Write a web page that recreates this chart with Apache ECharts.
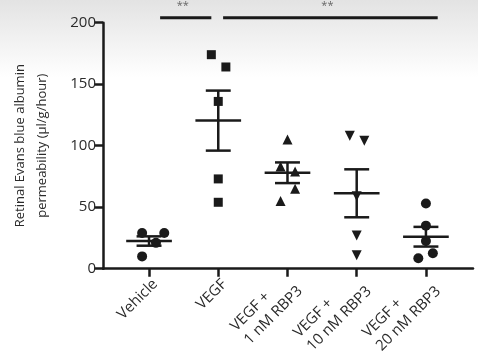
<!DOCTYPE html>
<html>
<head>
<meta charset="utf-8">
<script src="https://cdn.jsdelivr.net/npm/echarts@6/dist/echarts.min.js"></script>
<style>
html, body { margin: 0; padding: 0; background: #fff; }
#chart { width: 478px; height: 351px; }
</style>
</head>
<body>
<div id="chart"></div>
<script>
// data
var categories = ['Vehicle', 'VEGF', 'VEGF +\n1 nM RBP3', 'VEGF +\n10 nM RBP3', 'VEGF +\n20 nM RBP3'];
var vehicleVals = [29, 29, 21, 10];
var vegfVals = [174, 164, 136, 73, 54];
var rbp1Vals = [105, 83, 79, 65, 55];
var rbp10Vals = [108, 104, 59, 27, 11];
var rbp20Vals = [53, 35, 22.5, 12.5, 8.5];
var meanVals = [22.5, 120.4, 78, 61.3, 26];
var semVals = [3.8, 24.4, 8.4, 19.5, 8];
var yTicks = [0, 50, 100, 150, 200];
var sigFrom = [0.16, 1.07];
var sigTo = [0.9, 4.17];
var sigLevel = [204, 204];
var sigText = ['**', '**'];

var chart = echarts.init(document.getElementById('chart'));
var font = 'Open Sans';
var ink = '#1a1a1a';
var textColor = '#2b2b2b';
var labelSize = 15;

// horizontal spread of the dots inside each group
var jitter = [
    [-0.1, 0.22, 0.1, -0.1],
    [-0.1, 0.11, 0, 0, 0],
    [0, -0.1, 0.11, 0.11, -0.1],
    [-0.1, 0.11, 0, 0, 0],
    [0, 0, 0, 0.1, -0.11]
];
var groups = [vehicleVals, vegfVals, rbp1Vals, rbp10Vals, rbp20Vals];
var symbols = ['circle', 'rect', 'triangle', 'triangle', 'circle'];
var rotates = [0, 0, 0, 180, 0];

var pointSeries = groups.map(function (vals, g) {
    return {
        type: 'scatter',
        symbol: symbols[g],
        symbolSize: symbols[g] == 'rect' ? 9 : 10,
        symbolRotate: rotates[g],
        itemStyle: { color: ink, opacity: 1 },
        z: 3,
        data: vals.map(function (v, i) { return [g + jitter[g][i], v]; })
    };
});

var errorSeries = {
    type: 'custom',
    z: 2,
    data: meanVals.map(function (m, i) { return [i, m, semVals[i]]; }),
    renderItem: function (params, api) {
        var x = api.value(0), m = api.value(1), s = api.value(2);
        var c = api.coord([x, m]);
        var hi = api.coord([x, m + s]);
        var lo = api.coord([x, m - s]);
        var unit = api.size([1, 0])[0];
        var mw = unit * 0.33, cw = unit * 0.18;
        var st = { stroke: ink, lineWidth: 2.5 };
        return {
            type: 'group',
            children: [
                { type: 'line', shape: { x1: c[0] - mw, y1: c[1], x2: c[0] + mw, y2: c[1] }, style: st },
                { type: 'line', shape: { x1: c[0], y1: hi[1], x2: c[0], y2: lo[1] }, style: st },
                { type: 'line', shape: { x1: c[0] - cw, y1: hi[1], x2: c[0] + cw, y2: hi[1] }, style: st },
                { type: 'line', shape: { x1: c[0] - cw, y1: lo[1], x2: c[0] + cw, y2: lo[1] }, style: st }
            ]
        };
    }
};

var sigSeries = {
    type: 'custom',
    clip: false,
    z: 4,
    data: sigFrom.map(function (f, i) { return [f, sigTo[i], sigLevel[i]]; }),
    renderItem: function (params, api) {
        var a = api.coord([api.value(0), api.value(2)]);
        var b = api.coord([api.value(1), api.value(2)]);
        return {
            type: 'group',
            children: [
                { type: 'line', shape: { x1: a[0], y1: a[1], x2: b[0], y2: b[1] }, style: { stroke: ink, lineWidth: 3 } },
                {
                    type: 'text',
                    style: {
                        text: sigText[params.dataIndex], x: (a[0] + b[0]) / 2 - 3, y: a[1] - 6,
                        fill: '#666', font: '11px ' + font, align: 'center', verticalAlign: 'bottom'
                    }
                }
            ]
        };
    }
};

// two-line labels: lines start flush on the left inside a right-anchored block
var ctx = document.createElement('canvas').getContext('2d');
ctx.font = labelSize + 'px "' + font + '"';
var rich = {};
categories.forEach(function (c, i) {
    var w = 0;
    c.split('\n').forEach(function (p) { w = Math.max(w, ctx.measureText(p).width); });
    rich['l' + i] = { width: Math.ceil(w), align: 'left', fontFamily: font, fontSize: labelSize, lineHeight: 19, color: textColor };
});
function xLabel(v) {
    var i = Math.round(v);
    var parts = categories[i].split('\n');
    if (parts.length == 1) return parts[0];
    return parts.map(function (p) { return '{l' + i + '|' + p + '}'; }).join('\n');
}

var option = {
    animation: false,
    backgroundColor: '#fff',
    graphic: [{
        type: 'rect',
        z: -10,
        shape: { x: 0, y: 0, width: 478, height: 351 },
        style: {
            fill: new echarts.graphic.LinearGradient(0, 0, 0, 1, [
                { offset: 0, color: '#e3e3e3' },
                { offset: 0.22, color: '#ffffff' },
                { offset: 1, color: '#ffffff' }
            ])
        },
        silent: true
    }],
    grid: { left: 103, right: 5, top: 22.7, bottom: 82.3, containLabel: false, outerBoundsMode: 'none' },
    xAxis: {
        type: 'value',
        min: -0.665,
        max: 4.68,
        splitLine: { show: false },
        axisLine: { show: true, lineStyle: { color: ink, width: 2.5 } },
        axisTick: { show: true, customValues: [0, 1, 2, 3, 4], length: 8, lineStyle: { color: ink, width: 2.5 } },
        axisLabel: {
            customValues: [0.09, 1.09, 2.09, 3.09, 4.09],
            rotate: 45,
            margin: 13,
            fontFamily: font,
            fontSize: labelSize,
            lineHeight: 19,
            color: textColor,
            formatter: xLabel,
            rich: rich
        }
    },
    yAxis: {
        type: 'value',
        min: yTicks[0],
        max: yTicks[yTicks.length - 1],
        interval: 50,
        splitLine: { show: false },
        axisLine: { show: true, onZero: false, lineStyle: { color: ink, width: 2.5 } },
        axisTick: { show: true, length: 9, lineStyle: { color: ink, width: 2.5 } },
        axisLabel: { margin: 7, fontFamily: font, fontSize: 15, color: textColor },
        name: 'Retinal Evans blue albumin\npermeability (µl/g/hour)',
        nameLocation: 'middle',
        nameGap: 50,
        nameTextStyle: { fontFamily: font, fontSize: 13, lineHeight: 22, color: textColor }
    },
    series: pointSeries.concat([errorSeries, sigSeries])
};

chart.setOption(option);
</script>
</body>
</html>
